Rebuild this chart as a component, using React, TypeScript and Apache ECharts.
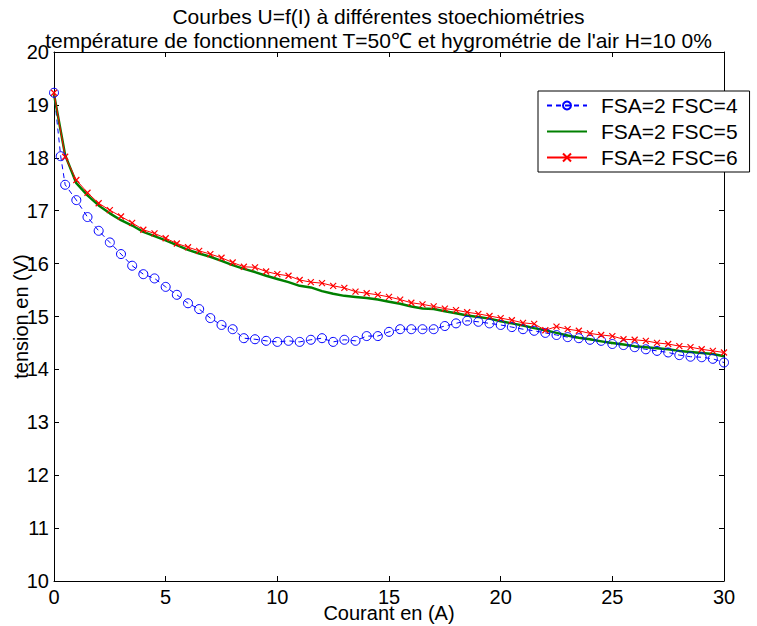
import React, { useEffect, useRef } from "react";
import * as echarts from "echarts";

const titleLines = [
  "Courbes U=f(I) à différentes stoechiométries",
  "température de fonctionnement T=50℃ et hygrométrie de l'air H=10 0%",
];
const xAxisName = "Courant en (A)";
const yAxisName = "tension en (V)";
const seriesNames = ["FSA=2 FSC=4", "FSA=2 FSC=5", "FSA=2 FSC=6"];

const currentBlue = [
  0, 0.3, 0.5, 1, 1.5, 2, 2.5, 3, 3.5, 4, 4.5, 5, 5.5, 6, 6.5, 7, 7.5, 8, 8.5, 9, 9.5, 10,
  10.5, 11, 11.5, 12, 12.5, 13, 13.5, 14, 14.5, 15, 15.5, 16, 16.5, 17, 17.5, 18, 18.5, 19,
  19.5, 20, 20.5, 21, 21.5, 22, 22.5, 23, 23.5, 24, 24.5, 25, 25.5, 26, 26.5, 27, 27.5, 28,
  28.5, 29, 29.5, 30,
];
const voltageFSC4 = [
  19.23, 18.03, 17.49, 17.2, 16.88, 16.62, 16.4, 16.18, 15.96, 15.8, 15.72, 15.56, 15.41,
  15.25, 15.14, 14.97, 14.84, 14.76, 14.59, 14.57, 14.54, 14.52, 14.54, 14.52, 14.56, 14.59,
  14.52, 14.56, 14.54, 14.63, 14.63, 14.71, 14.76, 14.76, 14.76, 14.76, 14.82, 14.87, 14.92,
  14.9, 14.87, 14.84, 14.8, 14.76, 14.73, 14.69, 14.65, 14.61, 14.59, 14.56, 14.54, 14.48,
  14.46, 14.42, 14.38, 14.35, 14.32, 14.27, 14.24, 14.23, 14.2, 14.13,
];

const current = [
  0, 0.5, 1, 1.5, 2, 2.5, 3, 3.5, 4, 4.5, 5, 5.5, 6, 6.5, 7, 7.5, 8, 8.5, 9, 9.5, 10, 10.5,
  11, 11.5, 12, 12.5, 13, 13.5, 14, 14.5, 15, 15.5, 16, 16.5, 17, 17.5, 18, 18.5, 19, 19.5,
  20, 20.5, 21, 21.5, 22, 22.5, 23, 23.5, 24, 24.5, 25, 25.5, 26, 26.5, 27, 27.5, 28, 28.5,
  29, 29.5, 30,
];
const voltageFSC5 = [
  19.2, 18.05, 17.52, 17.29, 17.1, 16.95, 16.82, 16.72, 16.6, 16.52, 16.44, 16.35, 16.26,
  16.19, 16.13, 16.05, 15.97, 15.9, 15.84, 15.77, 15.71, 15.65, 15.58, 15.55, 15.48, 15.43,
  15.39, 15.37, 15.35, 15.32, 15.28, 15.24, 15.19, 15.15, 15.14, 15.1, 15.06, 15.02, 14.99,
  14.96, 14.91, 14.87, 14.83, 14.78, 14.74, 14.69, 14.64, 14.6, 14.57, 14.53, 14.5, 14.47,
  14.44, 14.42, 14.4, 14.38, 14.35, 14.33, 14.31, 14.29, 14.25,
];
const voltageFSC6 = [
  19.23, 18.02, 17.58, 17.34, 17.14, 17.01, 16.89, 16.77, 16.64, 16.57, 16.48, 16.38, 16.31,
  16.24, 16.18, 16.11, 16.02, 15.94, 15.93, 15.85, 15.8, 15.77, 15.69, 15.65, 15.63, 15.58,
  15.54, 15.47, 15.44, 15.41, 15.37, 15.32, 15.26, 15.23, 15.19, 15.15, 15.12, 15.08, 15.05,
  15.01, 14.97, 14.93, 14.88, 14.86, 14.74, 14.81, 14.76, 14.73, 14.68, 14.65, 14.63, 14.57,
  14.56, 14.54, 14.5, 14.48, 14.44, 14.42, 14.38, 14.35, 14.32,
];

const xMin = 0, xMax = 30, xStep = 5;
const yMin = 10, yMax = 20, yStep = 1;

const FONT = "'Liberation Sans', Arial, sans-serif";

const zip = (xs: number[], ys: number[]) => xs.map((x, i) => [x, ys[i]]);

export default function App() {
  const ref = useRef<HTMLDivElement>(null);
  useEffect(() => {
    if (!ref.current) return;
    const chart = echarts.init(ref.current, null, { renderer: "svg" });
    const axisCommon = {
      axisLine: { show: true, onZero: false, lineStyle: { color: "#000", width: 1 } },
      axisTick: { show: true, inside: true, length: 5, lineStyle: { color: "#000" } },
      splitLine: { show: false },
    };
    chart.setOption({
      animation: false,
      backgroundColor: "#fff",
      title: {
        text: titleLines.join("\n"),
        left: "center",
        top: 4,
        padding: 0,
        textStyle: { fontFamily: FONT, fontSize: 21, fontWeight: "normal", color: "#000", lineHeight: 24 },
      },
      grid: { left: 54, top: 52, right: 33, bottom: 45, containLabel: false, outerBoundsMode: "none" },
      legend: {
        data: [
          { name: seriesNames[0] },
          { name: seriesNames[1], itemStyle: { opacity: 0 } },
          { name: seriesNames[2] },
        ],
        orient: "vertical",
        left: 538,
        top: 91,
        itemWidth: 40,
        itemHeight: 10,
        itemGap: 5,
        padding: [4, 12, 4, 8],
        borderColor: "#000",
        borderWidth: 1,
        backgroundColor: "#fff",
        textStyle: { fontFamily: FONT, fontSize: 21, color: "#000", padding: [0, 0, 0, 9] },
      },
      xAxis: [
        {
          type: "value",
          min: xMin,
          max: xMax,
          interval: xStep,
          name: xAxisName,
          nameLocation: "middle",
          nameGap: 22,
          nameMoveOverlap: false,
          nameTextStyle: { fontFamily: FONT, fontSize: 20, color: "#000", verticalAlign: "top" },
          axisLabel: { fontFamily: FONT, fontSize: 20, color: "#000", margin: 6 },
          ...axisCommon,
        },
        {
          type: "value",
          position: "top",
          min: xMin,
          max: xMax,
          interval: xStep,
          axisLabel: { show: false },
          ...axisCommon,
        },
      ],
      yAxis: [
        {
          type: "value",
          min: yMin,
          max: yMax,
          interval: yStep,
          name: yAxisName,
          nameLocation: "middle",
          nameGap: 23,
          nameMoveOverlap: false,
          nameTextStyle: { fontFamily: FONT, fontSize: 20, color: "#000" },
          axisLabel: { fontFamily: FONT, fontSize: 20, color: "#000", margin: 5 },
          ...axisCommon,
        },
        {
          type: "value",
          position: "right",
          min: yMin,
          max: yMax,
          interval: yStep,
          axisLabel: { show: false },
          ...axisCommon,
        },
      ],
      series: [
        {
          name: seriesNames[0],
          type: "line",
          data: zip(currentBlue, voltageFSC4),
          symbol: "circle",
          symbolSize: 9,
          showAllSymbol: true,
          lineStyle: { color: "#0000ff", width: 1, type: [5, 4] },
          itemStyle: { color: "rgba(0,0,0,0)", borderColor: "#0000ff", borderWidth: 1 },
        },
        {
          name: seriesNames[1],
          type: "line",
          data: zip(current, voltageFSC5),
          symbol: "none",
          lineStyle: { color: "#008000", width: 2.5 },
          itemStyle: { color: "#008000" },
        },
        {
          name: seriesNames[2],
          type: "line",
          data: zip(current, voltageFSC6),
          symbol: "path://M0,0L10,10M10,0L0,10",
          symbolSize: 6,
          showAllSymbol: true,
          lineStyle: { color: "#ff0000", width: 1 },
          itemStyle: { color: "#ff0000", borderColor: "#ff0000", borderWidth: 1.2 },
        },
      ],
    });
    return () => chart.dispose();
  }, []);
  return (
    <div
      ref={ref}
      style={{ position: "fixed", left: 0, top: 0, width: 757, height: 626, background: "#fff" }}
    />
  );
}
